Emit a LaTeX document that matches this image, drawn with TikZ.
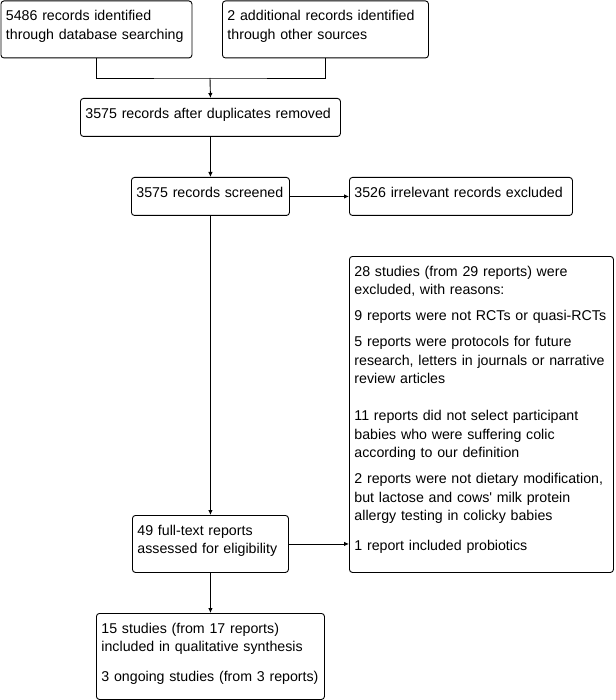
\documentclass[tikz,border=0pt]{standalone}
\usepackage{fontspec}
\setmainfont{Liberation Sans}
\usetikzlibrary{arrows.meta,positioning}

\begin{document}
\begin{tikzpicture}[
  x=1pt, y=-1pt,
  stage/.style={rectangle, draw, rounded corners=3pt, anchor=north west,
               inner xsep=5pt, inner ysep=4pt, text height=16pt, align=left,
               font=\fontsize{14.2}{18.5}\selectfont, line width=0.9pt},
  arrow/.style={-{Latex[length=5pt,width=4.5pt]}, line width=0.9pt}
]
\useasboundingbox (0,0) rectangle (615,700);

\node[stage, text width=181pt, text depth=33pt] (database) at (0.5,0.5)
  {5486 records identified\\ through database searching};
\node[stage, text width=196pt, text depth=33pt] (other) at (222,0.5)
  {2 additional records identified\\ through other sources};
\node[stage, text width=250pt, text depth=14pt] (dedup) at (80,98)
  {3575 records after duplicates removed};
\node[stage, text width=148pt, text depth=14pt] (screened) at (131,177)
  {3575 records screened};
\node[stage, text width=213pt, text depth=14pt] (irrelevant) at (349,177)
  {3526 irrelevant records excluded};
\node[stage, text width=254pt, text depth=292pt] (excluded) at (349,256)
  {28 studies (from 29 reports) were\\ excluded, with reasons:\\[7.5pt]
   9 reports were not RCTs or quasi-RCTs\\[7.5pt]
   5 reports were protocols for future\\ research, letters in journals or narrative\\ review articles\\[18.5pt]
   11 reports did not select participant\\ babies who were suffering colic\\ according to our definition\\[7.5pt]
   2 reports were not dietary modification,\\ but lactose and cows\textquotesingle\ milk protein\\ allergy testing in colicky babies\\[11.5pt]
   1 report included probiotics};
\node[stage, text width=146pt, text depth=33pt] (fulltext) at (132,515)
  {49 full-text reports\\ assessed for eligibility};
\node[stage, text width=218pt, text depth=62pt] (included) at (96,613)
  {15 studies (from 17 reports)\\ included in qualitative synthesis\\[11.5pt]
   3 ongoing studies (from 3 reports)};

% merge of the two sources
\coordinate (merge) at (210,78);
\draw[line width=0.9pt] (database.south) |- (merge) -| (other.south);
\draw[arrow] (merge) -- (dedup.north);

\draw[arrow] (dedup) -- (screened);
\draw[arrow] (screened) -- (irrelevant);
\draw[arrow] (screened) -- (fulltext);
\draw[arrow] (fulltext.east) -- (fulltext.east -| excluded.west);
\draw[arrow] (fulltext) -- (included);
\end{tikzpicture}
\end{document}
